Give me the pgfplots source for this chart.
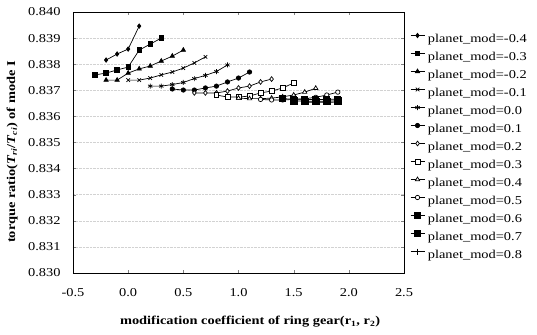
\documentclass[border=0pt]{standalone}
\usepackage{fontspec}
\setmainfont{Liberation Serif}[FakeStretch=1.2]
\usepackage{pgfplots}
\pgfplotsset{compat=1.18}
\begin{document}
\begin{tikzpicture}
\begin{axis}[
  at={(0pt,0pt)}, anchor=south west,
  scale only axis, width=331pt, height=261pt,
  xmin=-0.5, xmax=2.5, ymin=0.830, ymax=0.840,
  xtick={-0.5,0,0.5,1,1.5,2,2.5},
  ytick={0.830,0.831,0.832,0.833,0.834,0.835,0.836,0.837,0.838,0.839,0.840},
  scaled y ticks=false,
  /pgf/number format/assume math mode=true,
  y tick label style={/pgf/number format/fixed, /pgf/number format/fixed zerofill, /pgf/number format/precision=3},
  x tick label style={/pgf/number format/fixed, /pgf/number format/fixed zerofill, /pgf/number format/precision=1},
  yticklabel style={xshift=-9pt},
  xticklabel style={yshift=-12pt},
  tick label style={font=\fontsize{12}{14}\selectfont},
  tick align=inside, major tick length=3pt,
  axis line style={line width=0.9pt},
  ymajorgrids, grid style={gray!35, densely dotted},
  xlabel={\textbf{modification coefficient of ring gear(r\textsubscript{1}, r\textsubscript{2})}},
  ylabel={\textbf{torque ratio(\textit{T}\textsubscript{\textit{ri}}/\textit{T}\textsubscript{\textit{ci}}) of mode I}},
  xlabel style={at={(axis description cs:0.535,-0.188)}, anchor=center, font=\fontsize{12}{14}\selectfont},
  ylabel style={at={(axis description cs:-0.184,0.464)}, anchor=center, font=\fontsize{12}{14}\selectfont},
  legend style={at={(1.018,0.927)}, anchor=north west, draw=none, fill=none, inner sep=0pt,
    font=\fontsize{12}{13}\selectfont, row sep=3.5pt, column sep=1pt,
    cells={anchor=west, inner sep=0pt, text height=9pt, text depth=3pt}},
  legend image code/.code={\draw[#1, mark repeat=2, mark phase=2] plot coordinates {(0pt,3pt)(7pt,3pt)(14pt,3pt)};},
  every axis plot/.append style={black, line width=0.7pt, mark options={solid}},
]
\addplot[mark=diamond*, mark size=2.2pt] coordinates {(-0.2,0.83816)(-0.1,0.83839)(0.0,0.83858)(0.1,0.83946)};
\addlegendentry{planet\_mod=-0.4}
\addplot[mark=square*, mark size=2.3pt] coordinates {(-0.3,0.83759)(-0.2,0.83766)(-0.1,0.83778)(0.0,0.83789)(0.1,0.83854)(0.2,0.83877)(0.3,0.83900)};
\addlegendentry{planet\_mod=-0.3}
\addplot[mark=triangle*, mark size=2.5pt] coordinates {(-0.2,0.83739)(-0.1,0.83739)(0.0,0.83766)(0.1,0.83782)(0.2,0.83793)(0.3,0.83812)(0.4,0.83831)(0.5,0.83854)};
\addlegendentry{planet\_mod=-0.2}
\addplot[mark=x, mark size=2.5pt] coordinates {(0.0,0.83739)(0.1,0.83739)(0.2,0.83747)(0.3,0.83759)(0.4,0.83770)(0.5,0.83785)(0.6,0.83805)(0.7,0.83828)};
\addlegendentry{planet\_mod=-0.1}
\addplot[mark=asterisk, mark size=2.5pt] coordinates {(0.2,0.83716)(0.3,0.83716)(0.4,0.83722)(0.5,0.83730)(0.6,0.83745)(0.7,0.83757)(0.8,0.83772)(0.9,0.83797)};
\addlegendentry{planet\_mod=0.0}
\addplot[mark=*, mark size=2.2pt] coordinates {(0.4,0.83705)(0.5,0.83701)(0.6,0.83701)(0.7,0.83709)(0.8,0.83716)(0.9,0.83732)(1.0,0.83747)(1.1,0.83770)};
\addlegendentry{planet\_mod=0.1}
\addplot[mark=diamond*, mark size=2.4pt, mark options={fill=white}] coordinates {(0.6,0.83690)(0.7,0.83690)(0.8,0.83690)(0.9,0.83697)(1.0,0.83709)(1.1,0.83716)(1.2,0.83732)(1.3,0.83743)};
\addlegendentry{planet\_mod=0.2}
\addplot[mark=square*, mark size=2.4pt, mark options={fill=white}] coordinates {(0.8,0.83682)(0.9,0.83674)(1.0,0.83674)(1.1,0.83678)(1.2,0.83690)(1.3,0.83697)(1.4,0.83709)(1.5,0.83728)};
\addlegendentry{planet\_mod=0.3}
\addplot[mark=triangle*, mark size=2.5pt, mark options={fill=white}] coordinates {(1.0,0.83670)(1.1,0.83668)(1.2,0.83668)(1.3,0.83670)(1.4,0.83675)(1.5,0.83682)(1.6,0.83693)(1.7,0.83708)};
\addlegendentry{planet\_mod=0.4}
\addplot[mark=*, mark size=2.2pt, mark options={fill=white}] coordinates {(1.2,0.83665)(1.3,0.83663)(1.4,0.83663)(1.5,0.83665)(1.6,0.83668)(1.7,0.83673)(1.8,0.83682)(1.9,0.83693)};
\addlegendentry{planet\_mod=0.5}
\addplot[mark=square*, mark size=3pt] coordinates {(1.4,0.83668)(1.5,0.83666)(1.6,0.83665)(1.7,0.83665)(1.8,0.83665)(1.9,0.83666)};
\addlegendentry{planet\_mod=0.6}
\addplot[mark=square*, mark size=3.2pt] coordinates {(1.5,0.83660)(1.6,0.83658)(1.7,0.83658)(1.8,0.83658)(1.9,0.83660)};
\addlegendentry{planet\_mod=0.7}
\addplot[mark=+, mark size=3pt] coordinates {(1.6,0.83655)(1.7,0.83654)(1.8,0.83654)(1.9,0.83655)};
\addlegendentry{planet\_mod=0.8}
\end{axis}
\pgfresetboundingbox
\path (-73pt,-61pt) rectangle (464pt,273pt);
\end{tikzpicture}
\end{document}
